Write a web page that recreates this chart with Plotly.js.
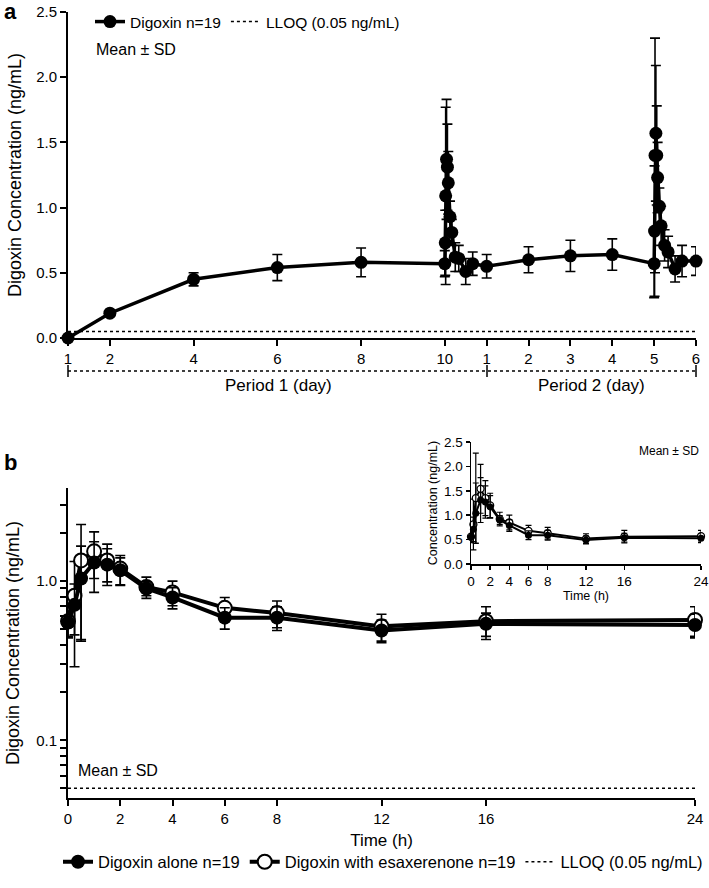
<!DOCTYPE html>
<html>
<head>
<meta charset="utf-8">
<script src="https://cdn.plot.ly/plotly-3.0.1.min.js"></script>
<style>html,body{margin:0;padding:0;background:#fff;}#chart{width:709px;height:888px;}</style>
</head>
<body>
<div id="chart"></div>
<script>
// ---------- Panel a data ----------
// Period 1 trough days (day index) and values
const p1Days = [1, 2, 4, 6, 8];
const p1Mean = [0.00, 0.19, 0.45, 0.54, 0.58];
const p1SD   = [0.00, 0.02, 0.05, 0.10, 0.11];
// Intensive sampling hours after dosing on period 1 day 10 / period 2 day 5
const profileHours = [0, 0.25, 0.5, 1, 1.5, 2, 3, 4, 6, 8, 12, 16];
const p1Day10Mean = [0.57, 0.73, 1.09, 1.37, 1.31, 1.19, 0.93, 0.81, 0.62, 0.61, 0.51, 0.57];
const p1Day10SD   = [0.10, 0.25, 0.68, 0.46, 0.33, 0.24, 0.12, 0.10, 0.11, 0.10, 0.10, 0.09];
// Period 2 trough days 1-4
const p2Days = [1, 2, 3, 4];
const p2Mean = [0.55, 0.60, 0.63, 0.64];
const p2SD   = [0.09, 0.10, 0.12, 0.12];
// Period 2 day 5 profile
const p2Day5Mean = [0.57, 0.82, 1.40, 1.57, 1.40, 1.23, 1.01, 0.86, 0.71, 0.66, 0.53, 0.59];
const p2Day5SD   = [0.26, 0.50, 0.90, 0.52, 0.38, 0.27, 0.14, 0.15, 0.12, 0.12, 0.10, 0.12];
// Period 2 day 6
const p2LastDay = [6];
const p2LastMean = [0.59];
const p2LastSD = [0.11];
const lloq = 0.05;

// tick labels panel a
const aTickVals = [1, 2, 4, 6, 8, 10, 11, 12, 13, 14, 15, 16];
const aTickText = ["1", "2", "4", "6", "8", "10", "1", "2", "3", "4", "5", "6"];

// ---------- Panel b data ----------
const timeH = [0, 0.25, 0.5, 1, 1.5, 2, 3, 4, 6, 8, 12, 16, 24];
const aloneMean = [0.55, 0.71, 1.04, 1.31, 1.27, 1.17, 0.90, 0.79, 0.59, 0.59, 0.49, 0.54, 0.53];
const aloneSD   = [0.10, 0.25, 0.62, 0.46, 0.33, 0.23, 0.09, 0.12, 0.09, 0.10, 0.08, 0.09, 0.09];
const withMean  = [0.56, 0.81, 1.35, 1.54, 1.35, 1.20, 0.92, 0.85, 0.68, 0.63, 0.52, 0.56, 0.57];
const withSD    = [0.12, 0.52, 0.92, 0.50, 0.36, 0.25, 0.14, 0.15, 0.11, 0.12, 0.10, 0.13, 0.12];
const bTickVals = [0, 2, 4, 6, 8, 12, 16, 24];

// ---------- Build panel a continuous series (day index scale) ----------
const P2_OFFSET = 10; // period 2 day d sits at index 10 + d
const ax = [], ay = [], ae = [];
p1Days.forEach((d, i) => { ax.push(d); ay.push(p1Mean[i]); ae.push(p1SD[i]); });
profileHours.forEach((h, i) => { ax.push(10 + h / 24); ay.push(p1Day10Mean[i]); ae.push(p1Day10SD[i]); });
p2Days.forEach((d, i) => { ax.push(P2_OFFSET + d); ay.push(p2Mean[i]); ae.push(p2SD[i]); });
profileHours.forEach((h, i) => { ax.push(P2_OFFSET + 5 + h / 24); ay.push(p2Day5Mean[i]); ae.push(p2Day5SD[i]); });
p2LastDay.forEach((d, i) => { ax.push(P2_OFFSET + d); ay.push(p2LastMean[i]); ae.push(p2LastSD[i]); });

const W = 709, H = 888;
const px = v => v / W;
const py = v => 1 - v / H;

const errStyle = (arr, th, w) => ({type: 'data', array: arr, visible: true, color: 'black', thickness: th, width: w});

const traces = [
  {x: ax, y: ay, xaxis: 'x', yaxis: 'y', mode: 'lines+markers', name: 'Digoxin n=19',
   line: {color: 'black', width: 3.5}, marker: {color: 'black', size: 13},
   error_y: errStyle(ae, 1.6, 5), cliponaxis: false, legend: 'legend'},
  {x: [1, 16], y: [lloq, lloq], xaxis: 'x', yaxis: 'y', mode: 'lines', name: 'LLOQ (0.05 ng/mL)',
   line: {color: 'black', width: 1.5, dash: 'dot'}, legend: 'legend', cliponaxis: false},
  // Panel b main (log)
  {x: timeH, y: withMean, xaxis: 'x2', yaxis: 'y2', mode: 'lines+markers', name: 'Digoxin with esaxerenone n=19',
   line: {color: 'black', width: 4}, marker: {color: 'white', size: 14, line: {color: 'black', width: 2}},
   error_y: errStyle(withSD, 1.6, 5), cliponaxis: false, legend: 'legend2', legendrank: 2},
  {x: timeH, y: aloneMean, xaxis: 'x2', yaxis: 'y2', mode: 'lines+markers', name: 'Digoxin alone n=19',
   line: {color: 'black', width: 4}, marker: {color: 'black', size: 14},
   error_y: errStyle(aloneSD, 1.6, 5), cliponaxis: false, legend: 'legend2', legendrank: 1},
  {x: [0, 24], y: [lloq, lloq], xaxis: 'x2', yaxis: 'y2', mode: 'lines', name: 'LLOQ (0.05 ng/mL)',
   line: {color: 'black', width: 1.5, dash: 'dot'}, legend: 'legend2', legendrank: 3},
  // Inset (linear)
  {x: timeH, y: withMean, xaxis: 'x3', yaxis: 'y3', mode: 'lines+markers', showlegend: false,
   line: {color: 'black', width: 2}, marker: {color: 'white', size: 7, line: {color: 'black', width: 1.3}},
   error_y: errStyle(withSD, 1.2, 3), cliponaxis: false},
  {x: timeH, y: aloneMean, xaxis: 'x3', yaxis: 'y3', mode: 'lines+markers', showlegend: false,
   line: {color: 'black', width: 2}, marker: {color: 'black', size: 7},
   error_y: errStyle(aloneSD, 1.2, 3), cliponaxis: false}
];

// log minor ticks for panel b
const logTicks = [], logText = [];
[0.01, 0.1, 1].forEach(dec => {
  for (let k = 1; k <= 9; k++) {
    const v = +(k * dec).toPrecision(3);
    if (v >= 0.043 && v <= 3.9) { logTicks.push(v); logText.push(v === 0.1 ? '0.1' : (v === 1 ? '1.0' : '')); }
  }
});

const axBase = {showline: true, linecolor: 'black', linewidth: 2, ticks: 'outside', ticklen: 6, tickwidth: 2,
  tickcolor: 'black', showgrid: false, zeroline: false, automargin: false, tickfont: {size: 15},
  ticklabeloverflow: 'allow'};

const layout = {
  width: W, height: H, margin: {l: 0, r: 0, t: 0, b: 0},
  paper_bgcolor: 'white', plot_bgcolor: 'rgba(0,0,0,0)',
  font: {family: 'Liberation Sans, Arial, sans-serif', size: 15, color: 'black'},
  xaxis: Object.assign({}, axBase, {domain: [px(68), px(696)], range: [1, 16], anchor: 'y',
    tickvals: aTickVals, ticktext: aTickText}),
  yaxis: Object.assign({}, axBase, {domain: [py(338), py(12)], range: [0, 2.5], anchor: 'x',
    dtick: 0.5, tickformat: '.1f',
    title: {text: 'Digoxin Concentration (ng/mL)', font: {size: 18}, standoff: 10}}),
  xaxis2: Object.assign({}, axBase, {domain: [px(68), px(695)], range: [0, 24], anchor: 'y2',
    tickvals: bTickVals, title: {text: 'Time (h)', font: {size: 17}, standoff: 8}}),
  yaxis2: Object.assign({}, axBase, {domain: [py(798), py(488)], type: 'log', range: [Math.log10(0.0434), Math.log10(3.85)],
    anchor: 'x2', tickvals: logTicks, ticktext: logText,
    title: {text: 'Digoxin Concentration (ng/mL)', font: {size: 18}, standoff: 12}}),
  xaxis3: Object.assign({}, axBase, {domain: [px(471), px(701)], range: [0, 24], anchor: 'y3',
    tickvals: bTickVals, linewidth: 1.5, tickwidth: 1.5, ticklen: 4, tickfont: {size: 13.5},
    title: {text: 'Time (h)', font: {size: 12.5}, standoff: 3}}),
  yaxis3: Object.assign({}, axBase, {domain: [py(564), py(442)], range: [0, 2.5], anchor: 'x3',
    dtick: 0.5, tickformat: '.1f', linewidth: 1.5, tickwidth: 1.5, ticklen: 4, tickfont: {size: 13.5},
    title: {text: 'Concentration (ng/mL)', font: {size: 12.5}, standoff: 3}}),
  legend: {orientation: 'h', x: px(90), y: py(22), xanchor: 'left', yanchor: 'middle',
    font: {size: 15.5}, bgcolor: 'rgba(0,0,0,0)', itemwidth: 30, tracegroupgap: 0},
  legend2: {orientation: 'h', x: px(58), y: py(862), xanchor: 'left', yanchor: 'middle',
    font: {size: 16.5}, bgcolor: 'rgba(0,0,0,0)', itemwidth: 30, traceorder: 'normal'},
  shapes: [
    {type: 'line', xref: 'paper', yref: 'paper', x0: px(68), x1: px(696), y0: py(371), y1: py(371),
     line: {color: 'black', width: 1.5, dash: 'dot'}},
    {type: 'line', xref: 'paper', yref: 'paper', x0: px(68), x1: px(68), y0: py(365), y1: py(377), line: {color: 'black', width: 1.5}},
    {type: 'line', xref: 'paper', yref: 'paper', x0: px(487), x1: px(487), y0: py(365), y1: py(377), line: {color: 'black', width: 1.5}},
    {type: 'line', xref: 'paper', yref: 'paper', x0: px(696), x1: px(696), y0: py(365), y1: py(377), line: {color: 'black', width: 1.5}}
  ],
  annotations: [
    {text: '<b>a</b>', xref: 'paper', yref: 'paper', x: px(2), y: py(12), xanchor: 'left', yanchor: 'middle', showarrow: false, font: {size: 22}},
    {text: '<b>b</b>', xref: 'paper', yref: 'paper', x: px(2), y: py(462), xanchor: 'left', yanchor: 'middle', showarrow: false, font: {size: 22}},
    {text: 'Period 1 (day)', xref: 'paper', yref: 'paper', x: px(278), y: py(385), xanchor: 'center', yanchor: 'middle', showarrow: false, font: {size: 17}},
    {text: 'Period 2 (day)', xref: 'paper', yref: 'paper', x: px(591), y: py(385), xanchor: 'center', yanchor: 'middle', showarrow: false, font: {size: 17}},
    {text: 'Mean ± SD', xref: 'paper', yref: 'paper', x: px(94), y: py(49), xanchor: 'left', yanchor: 'middle', showarrow: false, font: {size: 16}},
    {text: 'Mean ± SD', xref: 'paper', yref: 'paper', x: px(76), y: py(770), xanchor: 'left', yanchor: 'middle', showarrow: false, font: {size: 16}},
    {text: 'Mean ± SD', xref: 'paper', yref: 'paper', x: px(701), y: py(451), xanchor: 'right', yanchor: 'middle', showarrow: false, font: {size: 12}}
  ]
};

Plotly.newPlot('chart', traces, layout, {staticPlot: true, displayModeBar: false});
</script>
</body>
</html>
